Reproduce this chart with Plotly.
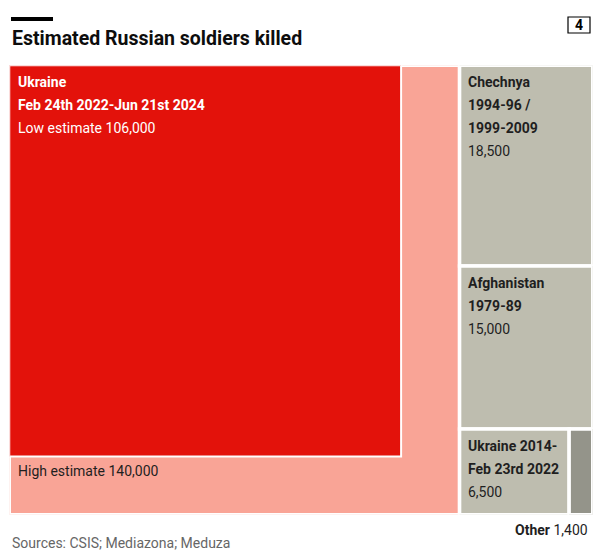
import plotly.graph_objects as go

# ---- data ----
ukraine_high = 140000
ukraine_low = 106000
others_names = ["Chechnya", "Afghanistan", "Ukraine 2014-Feb 2022", "Other"]
others_values = [18500, 15000, 6500, 1400]
labels_ukr22 = ["Ukraine", "Feb 24th 2022-Jun 21st 2024", "Low estimate 106,000"]
labels_chechnya = ["Chechnya", "1994-96 /", "1999-2009", "18,500"]
labels_afghan = ["Afghanistan", "1979-89", "15,000"]
labels_ukr14 = ["Ukraine 2014-", "Feb 23rd 2022", "6,500"]

RED = "#E3120B"
PINK = "#F9A496"
GRAY = "#BEBDAF"
DARKGRAY = "#94948A"
TXT = "#1f1f1f"

W, H = 608, 553
# treemap box in pixels (incl. half gaps)
bx0, bx1, by0, by1 = 9.25, 592.75, 65.25, 514.75
GAP = 3.5

total = ukraine_high + sum(others_values)
rest = sum(others_values)

# layout in normalized units (x 0..1, y 0..1 top-down)
uk_w = ukraine_high / total
rects = {}
rects["high"] = (0, uk_w, 0, 1)
s = (ukraine_low / ukraine_high) ** 0.5
rects["low"] = (0, uk_w * s, 0, s)
y = 0
for name, v in zip(others_names[:2], others_values[:2]):
    h = v / rest
    rects[name] = (uk_w, 1, y, y + h)
    y += h
bottom_tot = sum(others_values[2:])
xx = uk_w
for name, v in zip(others_names[2:], others_values[2:]):
    w = (1 - uk_w) * v / bottom_tot
    rects[name] = (xx, xx + w, y, 1)
    xx += w

fig = go.Figure()
shapes = []
def add_rect(r, color, lw=GAP):
    x0, x1, y0, y1 = r
    shapes.append(dict(type="rect", xref="x", yref="y", x0=x0, x1=x1, y0=y0, y1=y1,
                       fillcolor=color, line=dict(color="white", width=lw), layer="above"))

add_rect(rects["high"], PINK)
add_rect(rects["low"], RED, 2)
add_rect(rects["Chechnya"], GRAY)
add_rect(rects["Afghanistan"], GRAY)
add_rect(rects["Ukraine 2014-Feb 2022"], GRAY)
add_rect(rects["Other"], DARKGRAY)

# title bar and page-number box
shapes.append(dict(type="rect", xref="paper", yref="paper", x0=11/W, x1=53/W,
                   y0=1-21/H, y1=1-17/H, fillcolor="black", line=dict(width=0)))
shapes.append(dict(type="rect", xref="paper", yref="paper", x0=568/W, x1=590/W,
                   y0=1-33/H, y1=1-17/H, fillcolor="white", line=dict(color="black", width=1.2)))

FONT = "Roboto"
ann = []
def label(x, y, text, color, bold, dx=5 + GAP/2, dy=15 + GAP/2, size=14):
    t = f"<b>{text}</b>" if bold else text
    ann.append(dict(x=x, y=y, xref="x", yref="y", text=t, showarrow=False,
                    xanchor="left", yanchor="middle", xshift=dx, yshift=-dy,
                    font=dict(family=FONT, size=size, color=color)))

def block(rect, lines, color, nbold):
    for i, t in enumerate(lines):
        label(rect[0], rect[2], t, color, i < nbold, dy=15 + GAP/2 + 23*i)

block(rects["low"], labels_ukr22, "white", 2)
block(rects["Chechnya"], labels_chechnya, TXT, 3)
block(rects["Afghanistan"], labels_afghan, TXT, 2)
block(rects["Ukraine 2014-Feb 2022"], labels_ukr14, TXT, 2)
# high estimate label below low rect
label(0, rects["low"][3], "High estimate 140,000", TXT, False, dy=15)

ann.append(dict(x=590/W, y=1-530/H, xref="paper", yref="paper", showarrow=False,
                xanchor="right", yanchor="middle",
                text="<b>Other</b> 1,400", font=dict(family=FONT, size=14, color=TXT)))
ann.append(dict(x=10/W, y=1-38/H, xref="paper", yref="paper", showarrow=False,
                xanchor="left", yanchor="middle",
                text="<b>Estimated Russian soldiers killed</b>",
                font=dict(family=FONT, size=19.5, color="#0d0d0d")))
ann.append(dict(x=579/W, y=1-25/H, xref="paper", yref="paper", showarrow=False,
                xanchor="center", yanchor="middle",
                text="<b>4</b>", font=dict(family=FONT, size=14, color="black")))
ann.append(dict(x=10/W, y=1-543/H, xref="paper", yref="paper", showarrow=False,
                xanchor="left", yanchor="middle",
                text="Sources: CSIS; Mediazona; Meduza",
                font=dict(family=FONT, size=14, color="#666666")))

fig.update_layout(
    width=W, height=H, margin=dict(l=0, r=0, t=0, b=0),
    paper_bgcolor="white", plot_bgcolor="white",
    shapes=shapes, annotations=ann, showlegend=False,
    xaxis=dict(domain=[bx0/W, bx1/W], range=[0, 1], visible=False, fixedrange=True),
    yaxis=dict(domain=[1-by1/H, 1-by0/H], range=[1, 0], visible=False, fixedrange=True),
)
fig.write_html("out.html", config={"displayModeBar": False})
